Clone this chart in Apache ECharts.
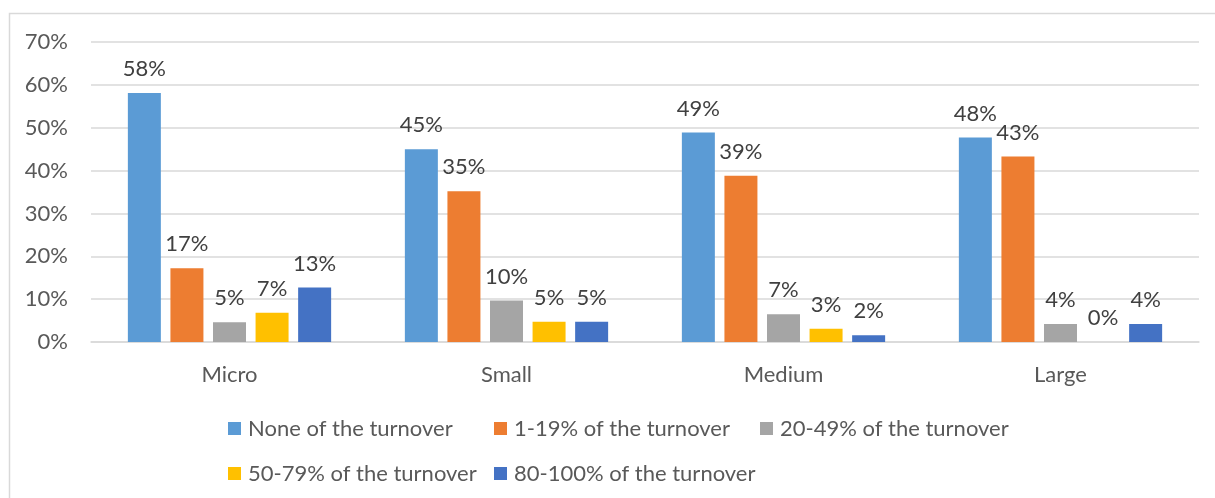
<!DOCTYPE html>
<html>
<head>
<meta charset="utf-8">
<script src="https://cdn.jsdelivr.net/npm/echarts@6/dist/echarts.min.js"></script>
<style>
html,body{margin:0;padding:0;background:#fff;}
#chart{width:1215px;height:498px;}
</style>
</head>
<body>
<div id="chart"></div>
<script>
const categories = ['Micro', 'Small', 'Medium', 'Large'];
const seriesNames = ['None of the turnover', '1-19% of the turnover', '20-49% of the turnover', '50-79% of the turnover', '80-100% of the turnover'];
const noneValues = [58.1, 45.0, 48.9, 47.7];
const low19Values = [17.2, 35.2, 38.8, 43.3];
const mid49Values = [4.6, 9.7, 6.5, 4.2];
const high79Values = [6.8, 4.7, 3.1, 0];
const top100Values = [12.7, 4.7, 1.6, 4.2];
const yTicks = [0, 10, 20, 30, 40, 50, 60, 70];
const colors = ['#5B9BD5', '#ED7D31', '#A5A5A5', '#FFC000', '#4472C4'];

const FONT = 'Lato';
const FS = 22;
const valuesList = [noneValues, low19Values, mid49Values, high79Values, top100Values];

const chart = echarts.init(document.getElementById('chart'), null, {renderer: 'canvas'});
const option = {
  animation: false,
  backgroundColor: '#fff',
  color: colors,
  textStyle: {fontFamily: FONT},
  graphic: [{
    type: 'rect',
    shape: {x: 9.5, y: 13.5, width: 1400, height: 700},
    style: {fill: 'none', stroke: '#d9d9d9', lineWidth: 1.5},
    silent: true,
    z: -10
  }],
  grid: {left: 91, right: 16, top: 42, bottom: 156, containLabel: false},
  legend: {
    left: 228,
    top: 406,
    width: 820,
    itemWidth: 13,
    itemHeight: 13,
    itemGap: 0,
    icon: 'rect',
    padding: 0,
    textStyle: {fontFamily: FONT, fontSize: FS, color: '#595959', width: 246, lineHeight: 45, padding: [0, 0, 0, 2]},
    data: seriesNames
  },
  xAxis: {
    type: 'category',
    data: categories,
    axisLine: {show: true, lineStyle: {color: '#d9d9d9', width: 1.5}},
    axisTick: {show: false},
    axisLabel: {fontFamily: FONT, fontSize: FS, color: '#595959', margin: 22}
  },
  yAxis: {
    type: 'value',
    min: yTicks[0],
    max: yTicks[yTicks.length - 1],
    interval: 10,
    axisLine: {show: false},
    axisTick: {show: false},
    splitLine: {lineStyle: {color: '#d9d9d9', width: 1.5}},
    axisLabel: {fontFamily: FONT, fontSize: FS, color: '#595959', margin: 23, formatter: v => v + '%'}
  },
  series: seriesNames.map((name, i) => ({
    name: name,
    type: 'bar',
    data: valuesList[i],
    barWidth: 33,
    barGap: '29%',
    itemStyle: {color: colors[i]},
    label: {
      show: true,
      position: 'top',
      distance: 13,
      fontFamily: FONT,
      fontSize: FS,
      color: '#404040',
      formatter: p => Math.round(p.value) + '%'
    }
  }))
};
chart.setOption(option);
</script>
</body>
</html>
